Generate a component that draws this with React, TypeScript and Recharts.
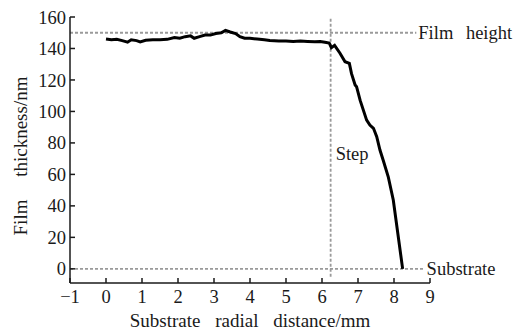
import { LineChart, Line, XAxis, YAxis, ReferenceLine, ReferenceDot } from "recharts";

// Profile
const radialMm = [
  0, 0.15, 0.3, 0.45, 0.6, 0.7, 0.85, 0.95, 1.1, 1.3, 1.5, 1.7, 1.9, 2.05, 2.2,
  2.35, 2.45, 2.6, 2.75, 2.9, 3.05, 3.2, 3.32, 3.45, 3.6, 3.72, 3.85, 4.0, 4.2,
  4.4, 4.55, 4.8, 5.0, 5.2, 5.4, 5.6, 5.8, 5.95, 6.08, 6.2, 6.26, 6.35, 6.5,
  6.64, 6.76, 6.82, 6.92, 6.96, 7.06, 7.24, 7.33, 7.43, 7.52, 7.61, 7.7, 7.84,
  7.98, 8.24,
];
const thicknessNm = [
  146, 145.5, 145.8, 145, 144, 145.5, 145, 144.2, 145.2, 145.5, 145.5, 145.8,
  147, 146.5, 147.5, 148, 146.5, 147.5, 148.5, 148.5, 149.5, 150, 151.5, 150.5,
  149.5, 147.5, 146.5, 146.5, 146, 145.5, 145, 144.8, 144.8, 144.5, 144.8,
  144.5, 144.3, 144.5, 144, 143.5, 140.5, 142, 137, 131.6, 130.5, 124, 116.8,
  115.7, 107, 94.5, 91.3, 89.3, 84, 75.5, 69, 58.5, 43.7, 0,
];

const xTicks = [-1, 0, 1, 2, 3, 4, 5, 6, 7, 8, 9];
const yTicks = [0, 20, 40, 60, 80, 100, 120, 140, 160];

const filmHeight = 150;
const substrate = 0;
const stepX = 6.24;

const data = radialMm.map((x, i) => ({ x, t: thicknessNm[i] }));

const FONT = "Times New Roman";
const INK = "#1a1a1a";
const DASH = "#9a9a9a";
const FS = 18.5;
const fontCss = { fontFamily: FONT };

// custom ticks so the serif font actually sticks
function XTick({ x, y, payload }: any) {
  const v = payload.value;
  return (
    <text x={x} y={y} dy="0.71em" textAnchor="middle" fontFamily={FONT} fontSize={FS} fill={INK} style={fontCss}>
      {v < 0 ? `\u2212${-v}` : `${v}`}
    </text>
  );
}

function YTick({ x, y, payload }: any) {
  return (
    <text x={x} y={y} dy="0.355em" textAnchor="end" fontFamily={FONT} fontSize={FS} fill={INK} style={fontCss}>
      {payload.value}
    </text>
  );
}

function YLabel(props: any) {
  const vb = props.viewBox || {};
  const cx = vb.x + 10;
  const cy = vb.y + vb.height / 2 + 6;
  return (
    <text
      x={cx}
      y={cy}
      transform={`rotate(-90, ${cx}, ${cy})`}
      textAnchor="middle"
      dominantBaseline="central"
      fontFamily={FONT}
      fontSize={19}
      fill={INK}
      style={{ ...fontCss, wordSpacing: 18 }}
    >
      Film thickness/nm
    </text>
  );
}

const labelProps = (value: string, position: any, offset: number) => ({
  value,
  position,
  offset,
  fontFamily: FONT,
  fontSize: FS,
  fill: INK,
  style: fontCss,
});

export default function App() {
  return (
    <div style={{ position: "absolute", left: 0, top: 0, background: "#fff", fontFamily: FONT }}>
      <LineChart
        width={519}
        height={335}
        data={data}
        margin={{ top: 17, right: 89, bottom: 2, left: 10 }}
      >
        <XAxis
          dataKey="x"
          type="number"
          domain={[-1, 9]}
          ticks={xTicks}
          interval={0}
          height={50}
          tickSize={-5}
          tickMargin={12}
          axisLine={{ stroke: INK, strokeWidth: 1.5 }}
          tickLine={{ stroke: INK, strokeWidth: 1.5 }}
          tick={<XTick />}
          label={{
            ...labelProps("Substrate radial distance/mm", "insideBottom", 6),
            fontSize: 19,
            style: { ...fontCss, wordSpacing: 10 },
          }}
        />
        <YAxis
          type="number"
          domain={[-9, 160]}
          ticks={yTicks}
          interval={0}
          width={60}
          tickSize={-5}
          tickMargin={9}
          axisLine={{ stroke: INK, strokeWidth: 1.5 }}
          tickLine={{ stroke: INK, strokeWidth: 1.5 }}
          tick={<YTick />}
          label={<YLabel />}
        />
        <ReferenceLine
          segment={[
            { x: -1, y: filmHeight },
            { x: 8.62, y: filmHeight },
          ]}
          stroke={DASH}
          strokeWidth={1.8}
          strokeDasharray="3 2"
          label={{ ...labelProps("Film height", "right", 2), style: { ...fontCss, wordSpacing: 8 } }}
        />
        <ReferenceLine
          segment={[
            { x: -1, y: substrate },
            { x: 8.85, y: substrate },
          ]}
          stroke={DASH}
          strokeWidth={1.8}
          strokeDasharray="3 2"
          label={labelProps("Substrate", "right", 2)}
        />
        <ReferenceLine
          segment={[
            { x: stepX, y: -5 },
            { x: stepX, y: 159.5 },
          ]}
          stroke={DASH}
          strokeWidth={1.8}
          strokeDasharray="3 2"
        />
        <ReferenceDot
          x={stepX}
          y={73.6}
          r={0}
          fill="none"
          stroke="none"
          label={labelProps("Step", "right", 5)}
        />
        <Line
          type="linear"
          dataKey="t"
          stroke="#000"
          strokeWidth={3}
          dot={false}
          isAnimationActive={false}
        />
      </LineChart>
    </div>
  );
}
